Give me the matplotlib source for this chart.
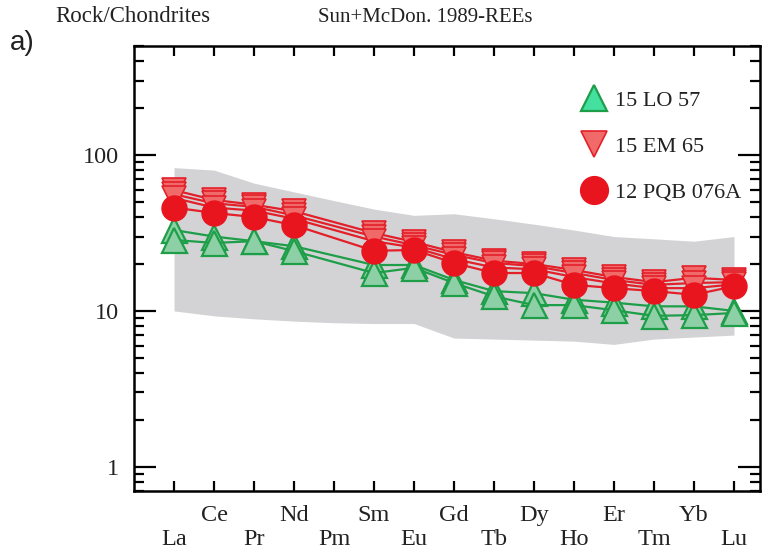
import matplotlib
matplotlib.use("Agg")
import matplotlib.pyplot as plt
from matplotlib.lines import Line2D
from matplotlib.ticker import LogLocator, NullFormatter, FixedLocator
import numpy as np

elements = ["La", "Ce", "Pr", "Nd", "Pm", "Sm", "Eu", "Gd", "Tb", "Dy", "Ho", "Er", "Tm", "Yb", "Lu"]

band_upper = [83, 80, 66, 58, 51, 45, 41, 42, 39, 36, 33, 30, 29, 28, 30]
band_lower = [10, 9.3, 8.9, 8.6, 8.4, 8.3, 8.3, 6.7, 6.6, 6.5, 6.4, 6.1, 6.6, 6.8, 7.0]

# 15 LO 57 (green triangles) - Pm absent (None)
lo57_a = [33, 30, 28, 26, None, 19.7, 19.7, 15.8, 13.4, 13.0, 11.8, 11.3, 10.7, 10.7, 10.0]
lo57_b = [28.5, 27.3, 28, 24.2, None, 17.5, 18.9, 15.1, 12.4, 10.9, 10.9, 10.1, 9.3, 9.4, 9.7]

# 15 EM 65 (red inverted triangles)
em65_a = [59.5, 51.5, 48, 43.6, None, 31.6, 27.7, 23.8, 21.0, 20.0, 18.3, 16.5, 15.3, 16.3, 15.8]
em65_b = [56, 49, 46.5, 41, None, 30, 26.4, 22.9, 20.3, 19.4, 17.5, 15.8, 14.7, 15.1, 15.3]
em65_c = [53, 46, 44, 39, None, 28, 25.5, 21.5, 19.0, 18.5, 16.5, 15.0, 14.0, 14.0, 14.8]

# 12 PQB 076A (red circles)
pqb076a = [46, 42.5, 40, 35.5, None, 24.3, 24.6, 20.3, 17.5, 17.5, 14.7, 14.0, 13.4, 12.7, 14.4]

ytick_vals = [1, 10, 100]
ytick_labels = ["1", "10", "100"]

legend_labels = ["15 LO 57", "15 EM 65", "12 PQB 076A"]

def clean(vals):
    x = np.arange(1, len(vals) + 1)
    pairs = [(xi, v) for xi, v in zip(x, vals) if v is not None]
    return [p[0] for p in pairs], [p[1] for p in pairs]

fig = plt.figure(figsize=(7.69, 5.55), dpi=100)
ax = fig.add_axes([0.1743, 0.1153, 0.9883 - 0.1743, 0.9171 - 0.1153])

xs = np.arange(1, len(elements) + 1)
ax.fill_between(xs, band_lower, band_upper, color="#d3d3d5", lw=0, zorder=1)

green_edge = "#1e9e48"
green_face = "#8ed0a6"
red_edge = "#e3202a"
red_face = "#f06a6a"
red_circle = "#e8141e"

for vals in [lo57_a, lo57_b]:
    x, y = clean(vals)
    ax.plot(x, y, color=green_edge, lw=1.6, marker="^", ms=18, mfc=green_face,
            mec=green_edge, mew=1.6, zorder=3)

for vals in [em65_a, em65_b, em65_c]:
    x, y = clean(vals)
    ax.plot(x, y, color=red_edge, lw=1.6, marker="v", ms=17, mfc=red_face,
            mec=red_edge, mew=1.2, zorder=4)

x, y = clean(pqb076a)
ax.plot(x, y, color=red_edge, lw=1.6, marker="o", ms=18, mfc=red_circle,
        mec=red_circle, mew=1, zorder=5)

ax.set_yscale("log")
ax.set_ylim(0.7, 500)
ax.set_xlim(0, 15.65)

ax.yaxis.set_major_locator(FixedLocator(ytick_vals))
ax.set_yticklabels(ytick_labels)
ax.yaxis.set_minor_locator(LogLocator(base=10, subs=np.arange(2, 10)))
ax.yaxis.set_minor_formatter(NullFormatter())

ax.set_xticks(xs)
xlabels = [("\n" + e) if i % 2 == 0 else e for i, e in enumerate(elements)]
ax.set_xticklabels(xlabels, linespacing=1.2)

serif = ["Liberation Serif", "DejaVu Serif"]
for lab in ax.get_xticklabels() + ax.get_yticklabels():
    lab.set_family(serif)
    lab.set_fontsize(17.5)
    lab.set_color("#222222")

ax.tick_params(axis="x", which="major", direction="in", length=7.5, width=1.6,
               top=True, bottom=True, pad=10)
ax.tick_params(axis="y", which="major", direction="in", length=16, width=1.6,
               left=True, right=True, pad=11)
ax.tick_params(axis="y", which="minor", direction="in", length=7.5, width=1.6,
               left=True, right=True)
for sp in ax.spines.values():
    sp.set_linewidth(1.8)

handles = [
    Line2D([], [], ls="none", marker="^", ms=19, mfc="#44e0a0", mec=green_edge, mew=1.6),
    Line2D([], [], ls="none", marker="v", ms=19, mfc=red_face, mec=red_edge, mew=1.2),
    Line2D([], [], ls="none", marker="o", ms=20, mfc=red_circle, mec=red_circle),
]
leg = ax.legend(handles, legend_labels, loc="upper left", bbox_to_anchor=(0.685, 0.945),
                frameon=False, handlelength=1.0, handletextpad=0.45, labelspacing=1.15,
                prop={"family": serif, "size": 16})
for t in leg.get_texts():
    t.set_color("#222222")

fig.text(55 / 769, 1 - 17 / 555, "Rock/Chondrites", family=serif, fontsize=16.5,
         color="#222222", va="center", ha="left")
fig.text(425 / 769, 1 - 17 / 555, "Sun+McDon. 1989-REEs", family=serif, fontsize=15,
         color="#222222", va="center", ha="center")
fig.text(10 / 769, 1 - 43 / 555, "a)", family=["Liberation Sans", "DejaVu Sans"],
         fontsize=20, color="#222222", va="center", ha="left")

fig.savefig("out.png", dpi=100)
